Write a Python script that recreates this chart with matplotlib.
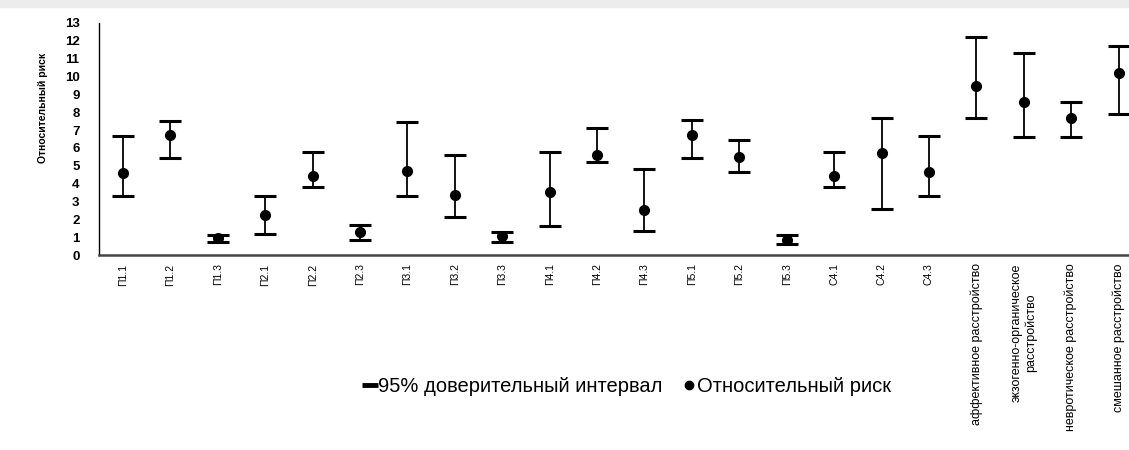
import matplotlib
matplotlib.use("Agg")
import matplotlib.pyplot as plt
from matplotlib.lines import Line2D
import numpy as np

plt.rcParams['font.family'] = ['Liberation Sans', 'DejaVu Sans']

# categories
labels = ["П1.1", "П1.2", "П1.3", "П2.1", "П2.2", "П2.3",
          "П3.1", "П3.2", "П3.3", "П4.1", "П4.2", "П4.3",
          "П5.1", "П5.2", "П5.3", "С4.1", "С4.2", "С4.3",
          "аффективное расстройство",
          "экзогенно-органическое\nрасстройство",
          "невротическое расстройство",
          "смешанное расстройство"]

# relative risk and 95% CI
rr    = [4.61, 6.72, 0.95, 2.24, 4.42, 1.30, 4.72, 3.36, 1.06, 3.54, 5.60,
         2.52, 6.72, 5.50, 0.87, 4.42, 5.69, 4.66, 9.46, 8.58, 7.65, 10.20]
lower = [3.30, 5.41, 0.76, 1.18, 3.82, 0.84, 3.30, 2.11, 0.74, 1.62, 5.22,
         1.36, 5.41, 4.66, 0.62, 3.82, 2.61, 3.32, 7.65, 6.59, 6.59, 7.89]
upper = [6.66, 7.52, 1.14, 3.30, 5.78, 1.66, 7.46, 5.60, 1.30, 5.75, 7.09,
         4.80, 7.55, 6.47, 1.12, 5.78, 7.65, 6.68, 12.18, 11.29, 8.58, 11.70]

x = np.arange(len(labels))
rr = np.array(rr)
err = [rr - np.array(lower), np.array(upper) - rr]

fig = plt.figure(figsize=(11.29, 4.5), dpi=100)
ax = fig.add_axes([0.0877, 0.433, 0.9123, 0.5163])

ax.errorbar(x, rr, yerr=err, fmt='o', color='black', ecolor='black',
            elinewidth=1.3, capsize=8, capthick=2.2, markersize=7)

ax.set_xlim(-0.506, 21.22)
ax.set_ylim(0, 13)
ax.set_yticks(range(0, 14))
ax.tick_params(axis='y', length=0, pad=14, labelsize=9.5)
for t in ax.get_yticklabels():
    t.set_fontweight('bold')
ax.set_xticks(x)
ax.set_xticklabels(labels, rotation=90, va='top', ha='center',
                   multialignment='center', fontsize=7.5)
for t in ax.get_xticklabels()[18:]:
    t.set_fontsize(9)
ax.tick_params(axis='x', length=0, pad=6)

for s in ['top', 'right']:
    ax.spines[s].set_visible(False)
ax.spines['left'].set_linewidth(1.0)
ax.spines['bottom'].set_linewidth(1.8)
ax.spines['bottom'].set_color('#444444')

ax.set_ylabel("Относительный риск", fontsize=7.5, fontweight='bold')
ax.yaxis.set_label_coords(-0.05, 0.633)

handles = [Line2D([], [], color='black', marker='_', linestyle='none',
                  markersize=12, markeredgewidth=3.5),
           Line2D([], [], color='black', marker='o', linestyle='none',
                  markersize=6)]
fig.legend(handles, ["95% доверительный интервал", "Относительный риск"],
           loc='center', bbox_to_anchor=(0.556, 0.14), ncol=2, frameon=False,
           fontsize=14.5, handlelength=0.6, handletextpad=0.1, columnspacing=1.0)

# grey strip of the scanned page at the top
fig.patches.append(plt.Rectangle((0, 0.984), 1, 0.016, transform=fig.transFigure,
                                 color='#ececec', zorder=-1))

fig.savefig("out.png", dpi=100)
